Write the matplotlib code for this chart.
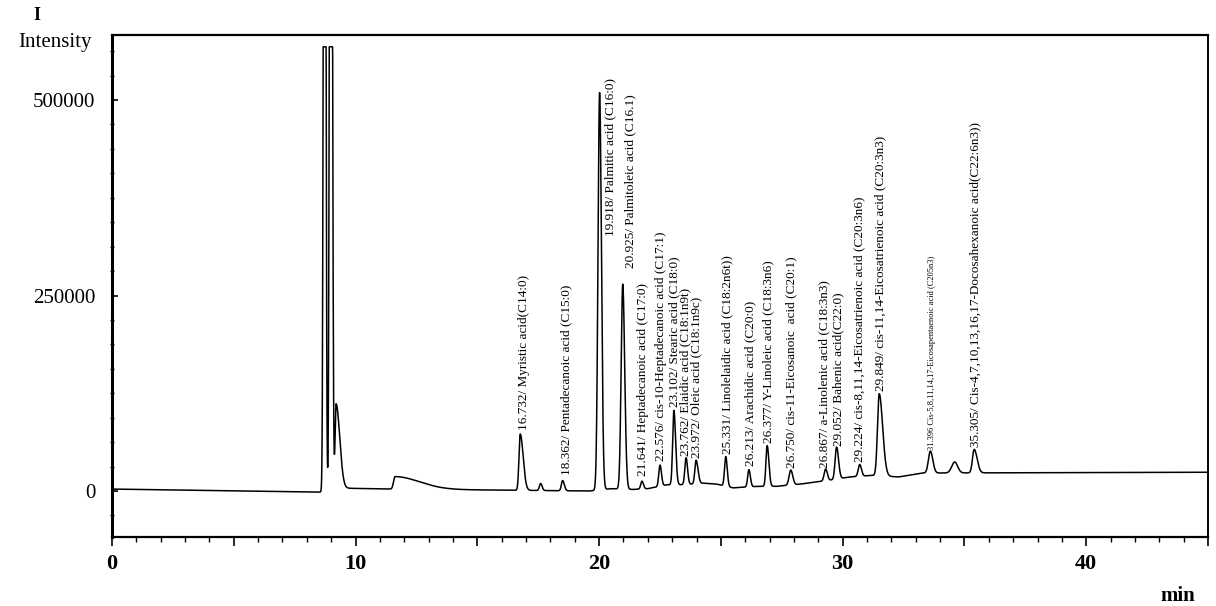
"""GC chromatogram of fatty acid methyl esters."""
import numpy as np
import matplotlib
matplotlib.use("Agg")
import matplotlib.pyplot as plt
from matplotlib.ticker import MultipleLocator, FuncFormatter

# peaks: retention (min), height above baseline, left/right width
peak_rt = [8.73, 8.98, 9.20, 11.62, 16.76, 17.60, 18.50, 20.02, 20.97, 21.76,
           22.50, 23.07, 23.57, 23.98, 25.20, 26.15, 26.90, 27.87, 29.30, 29.75,
           30.70, 31.50, 33.60, 34.60, 35.40]
peak_h = [2.0e6, 2.0e6, 110000, 16000, 72000, 9000, 13000, 508000, 262000, 10000,
          27000, 95000, 34000, 30000, 38000, 22000, 52000, 19000, 15000, 41000,
          15000, 105000, 28000, 14000, 30000]
peak_wl = [0.04, 0.04, 0.04, 0.06, 0.05, 0.05, 0.05, 0.065, 0.065, 0.05,
           0.05, 0.05, 0.05, 0.05, 0.05, 0.05, 0.05, 0.07, 0.06, 0.06,
           0.06, 0.07, 0.08, 0.12, 0.07]
peak_wr = [0.04, 0.05, 0.15, 1.00, 0.12, 0.06, 0.07, 0.075, 0.08, 0.06,
           0.06, 0.07, 0.06, 0.08, 0.06, 0.06, 0.07, 0.08, 0.07, 0.08,
           0.07, 0.14, 0.10, 0.12, 0.12]

# baseline drift (min, intensity)
base_t = [0, 8.5, 9.7, 11.4, 16.5, 19.6, 20.5, 21.4, 22.0, 22.8, 23.3, 24.3,
          24.8, 25.5, 26.5, 27.3, 28.3, 29.5, 30.3, 31.2, 32.3, 33.3, 45]
base_v = [2500, -1500, 3500, 2500, 1000, 0, 3000, 2000, 3000, 8000, 8000, 10000,
          9000, 4000, 6000, 6000, 9000, 14000, 18000, 20000, 18000, 23000, 24000]

CLIP = 568000  # detector trace flat-tops here

label_text = [
    "16.732/ Myristic acid(C14:0)",
    "18.362/ Pentadecanoic acid (C15:0)",
    "19.918/ Palmitic acid (C16:0)",
    "20.925/ Palmitoleic acid (C16.1)",
    "21.641/ Heptadecanoic acid (C17:0)",
    "22.576/ cis-10-Heptadecanoic acid (C17:1)",
    "23.102/ Stearic acid (C18:0)",
    "23.762/ Elaidic acid (C18:1n9t)",
    "23.972/ Oleic acid (C18:1n9c)",
    "25.331/ Linolelaidic acid (C18:2n6t))",
    "26.213/ Arachidic acid (C20:0)",
    "26.377/ Y-Linoleic acid (C18:3n6)",
    "26.750/ cis-11-Eicosanoic  acid (C20:1)",
    "26.867/ a-Linolenic acid (C18:3n3)",
    "29.052/ Bahenic acid(C22:0)",
    "29.224/ cis-8,11,14-Eicosatrienoic acid (C20:3n6)",
    "29.849/ cis-11,14-Eicosatrienoic acid (C20:3n3)",
    "31.396 Cis-5,8,11,14,17-Eicosapentaenoic acid (C205n3)",
    "35.305/ Cis-4,7,10,13,16,17-Docosahexanoic acid(C22:6n3))",
]
label_x = [16.90, 18.65, 20.45, 21.27, 21.80, 22.55, 23.10, 23.55, 24.00, 25.25,
           26.20, 26.95, 27.90, 29.25, 29.80, 30.70, 31.55, 33.65, 35.45]
label_y = [78000, 20500, 326000, 285000, 19000, 38000, 107000, 45000, 42000, 47000,
           32000, 61000, 29000, 29000, 57000, 37000, 128000, 52000, 56000]
label_size = [9.5] * 17 + [6, 9.5]

y_ticks = [0, 250000, 500000]
x_major = 5
x_labelled = 10

plt.rcParams["font.family"] = ["Liberation Serif", "DejaVu Serif"]

t = np.linspace(0, 45, 9001)
y = np.interp(t, base_t, base_v)
for c, h, wl, wr in zip(peak_rt, peak_h, peak_wl, peak_wr):
    s = np.where(t < c, wl, wr)
    y = y + h * np.exp(-0.5 * ((t - c) / s) ** 2)
y = np.minimum(y, CLIP)

W, H = 1216, 606
fig = plt.figure(figsize=(W / 100, H / 100), dpi=100)
ax = fig.add_axes([112 / W, 1 - 537 / H, (1208 - 112) / W, (537 - 35) / H])
ax.plot(t, y, color="black", lw=1.1)
ax.set_xlim(0, 45)
ax.set_ylim(-58800, 583100)

for s_, x_, y_, fs in zip(label_text, label_x, label_y, label_size):
    ax.text(x_, y_, s_, rotation=90, ha="center", va="bottom", fontsize=fs)

ax.xaxis.set_major_locator(MultipleLocator(x_major))
ax.xaxis.set_minor_locator(MultipleLocator(1))
ax.xaxis.set_major_formatter(FuncFormatter(
    lambda v, p: f"{v:.0f}" if abs(v % x_labelled) < 1e-6 else ""))
ax.tick_params(axis="x", which="major", direction="out", length=6.5, width=1.2,
               labelsize=16, pad=6)
ax.tick_params(axis="x", which="minor", direction="out", length=3.5, width=1.0)
for lab in ax.get_xticklabels():
    lab.set_fontweight("bold")

ax.set_yticks(y_ticks)
ax.set_yticklabels([str(v) for v in y_ticks])
ax.yaxis.set_minor_locator(MultipleLocator(31250))
ax.tick_params(axis="y", which="major", direction="in", length=4, width=1.2,
               labelsize=15, pad=12)
ax.tick_params(axis="y", which="minor", direction="inout", length=3, width=1.0)

for side, lw in [("left", 2.2), ("top", 1.6), ("bottom", 1.6), ("right", 1.4)]:
    ax.spines[side].set_linewidth(lw)

fig.text(55 / W, 1 - 42 / H, "Intensity", fontsize=15, ha="center", va="center")
fig.text(37 / W, 1 - 16 / H, "I", fontsize=13, fontweight="bold", ha="center", va="center")
fig.text(1178 / W, 1 - 596 / H, "min", fontsize=15, fontweight="bold",
         ha="center", va="center")

fig.savefig("out.png", dpi=100)
